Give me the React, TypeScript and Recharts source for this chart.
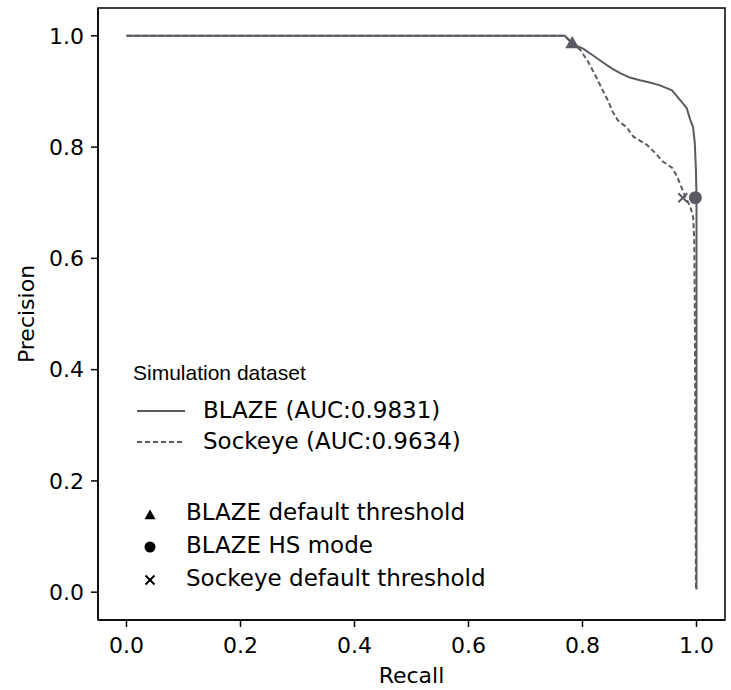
import { ComposedChart, Line, Scatter, XAxis, YAxis, ReferenceArea, Legend } from 'recharts'

// precision-recall points
const blazeRecall = [0, 0.769, 0.783, 0.801, 0.818, 0.836, 0.852, 0.866, 0.883, 0.901, 0.918, 0.936, 0.957, 0.971, 0.983, 0.989, 0.994, 0.997, 0.999, 1.0, 1.0]
const blazePrecision = [1.0, 1.0, 0.985, 0.977, 0.965, 0.952, 0.941, 0.933, 0.925, 0.92, 0.916, 0.911, 0.902, 0.885, 0.87, 0.849, 0.836, 0.807, 0.759, 0.711, 0.005]

const sockeyeRecall = [0, 0.769, 0.783, 0.796, 0.81, 0.822, 0.834, 0.845, 0.852, 0.862, 0.878, 0.889, 0.913, 0.927, 0.941, 0.957, 0.966, 0.974, 0.98, 0.989, 0.994, 0.996, 0.997, 0.999]
const sockeyePrecision = [1.0, 1.0, 0.985, 0.975, 0.953, 0.93, 0.905, 0.883, 0.865, 0.848, 0.835, 0.819, 0.804, 0.79, 0.774, 0.763, 0.747, 0.727, 0.711, 0.693, 0.675, 0.634, 0.526, 0.006]

const blazeDefaultPoint = [{ x: 0.782, y: 0.987 }]
const blazeHsPoint = [{ x: 0.998, y: 0.709 }]
const sockeyeDefaultPoint = [{ x: 0.976, y: 0.709 }]

const ticks = [0, 0.2, 0.4, 0.6, 0.8, 1.0]
const legendTitle = 'Simulation dataset'
const lineLegend = ['BLAZE (AUC:0.9831)', 'Sockeye (AUC:0.9634)']
const markerLegend = ['BLAZE default threshold', 'BLAZE HS mode', 'Sockeye default threshold']

const blazeData = blazeRecall.map((x, i) => ({ x, y: blazePrecision[i] }))
const sockeyeData = sockeyeRecall.map((x, i) => ({ x, y: sockeyePrecision[i] }))

const GREY = '#5a5a62'
const FONT = 'DejaVu Sans, sans-serif'

const Triangle = ({ cx, cy, fill, s = 7 }: any) => (
  <polygon points={`${cx},${cy - s} ${cx - s},${cy + s * 0.75} ${cx + s},${cy + s * 0.75}`} fill={fill} />
)
const Dot = ({ cx, cy, fill, r = 6.5 }: any) => <circle cx={cx} cy={cy} r={r} fill={fill} />
const Cross = ({ cx, cy, stroke, s = 4.5 }: any) => (
  <g stroke={stroke} strokeWidth={2}>
    <line x1={cx - s} y1={cy - s} x2={cx + s} y2={cy + s} />
    <line x1={cx - s} y1={cy + s} x2={cx + s} y2={cy - s} />
  </g>
)

const LegendBox = () => (
  <svg width={731} height={690} style={{ position: 'absolute', left: 0, top: 0 }}>
    <text x={133} y={380} fontFamily="Liberation Sans, Arial, sans-serif" fontSize={21} fill="#000">
      {legendTitle}
    </text>
    <line x1={137} y1={411} x2={185} y2={411} stroke={GREY} strokeWidth={2} />
    <text x={203} y={418} fontFamily={FONT} fontSize={23} fill="#000">{lineLegend[0]}</text>
    <line x1={137} y1={442} x2={185} y2={442} stroke={GREY} strokeWidth={2} strokeDasharray="5 3" />
    <text x={203} y={449} fontFamily={FONT} fontSize={23} fill="#000">{lineLegend[1]}</text>
    <Triangle cx={150} cy={515} fill="#000" s={5.5} />
    <text x={186} y={520} fontFamily={FONT} fontSize={23} fill="#000">{markerLegend[0]}</text>
    <Dot cx={150} cy={547} fill="#000" r={5.5} />
    <text x={186} y={553} fontFamily={FONT} fontSize={23} fill="#000">{markerLegend[1]}</text>
    <Cross cx={150} cy={580} stroke="#000" s={4.5} />
    <text x={186} y={586} fontFamily={FONT} fontSize={23} fill="#000">{markerLegend[2]}</text>
  </svg>
)

const YLabel = ({ viewBox }: any) => {
  const cy = viewBox.y + viewBox.height / 2
  return (
    <text x={34} y={cy} transform={`rotate(-90 34 ${cy})`} textAnchor="middle" fontFamily={FONT} fontSize={22} fill="#000">
      Precision
    </text>
  )
}

const XLabel = ({ viewBox }: any) => (
  <text x={viewBox.x + viewBox.width / 2} y={683} textAnchor="middle" fontFamily={FONT} fontSize={22} fill="#000">
    Recall
  </text>
)

export default function App() {
  return (
    <div style={{ position: 'absolute', left: 0, top: 0, background: '#fff' }}>
      <ComposedChart width={731} height={690} margin={{ top: 8, right: 6, left: 0, bottom: 0 }}>
        <XAxis
          dataKey="x"
          type="number"
          domain={[-0.05, 1.05]}
          ticks={ticks}
          tickFormatter={(v: number) => v.toFixed(1)}
          allowDataOverflow
          height={70}
          stroke="#000"
          strokeWidth={1.5}
          tickSize={7}
          tickMargin={10}
          tick={{ fill: '#000', fontSize: 22, fontFamily: FONT }}
          label={<XLabel />}
        />
        <YAxis
          type="number"
          domain={[-0.05, 1.05]}
          ticks={ticks}
          tickFormatter={(v: number) => v.toFixed(1)}
          allowDataOverflow
          width={98}
          stroke="#000"
          strokeWidth={1.5}
          tickSize={7}
          tickMargin={7}
          tick={{ fill: '#000', fontSize: 22, fontFamily: FONT }}
          label={<YLabel />}
        />
        <ReferenceArea x1={-0.05} x2={1.05} y1={-0.05} y2={1.05} fill="none" stroke="#000" strokeWidth={1.5} ifOverflow="visible" />
        <Line data={blazeData} dataKey="y" type="linear" stroke={GREY} strokeWidth={2} dot={false} isAnimationActive={false} />
        <Line data={sockeyeData} dataKey="y" type="linear" stroke={GREY} strokeWidth={2} strokeDasharray="5 3" dot={false} isAnimationActive={false} />
        <Scatter data={blazeDefaultPoint} dataKey="y" fill={GREY} shape={(p: any) => <Triangle cx={p.cx} cy={p.cy} fill={GREY} />} isAnimationActive={false} />
        <Scatter data={blazeHsPoint} dataKey="y" fill={GREY} shape={(p: any) => <Dot cx={p.cx} cy={p.cy} fill={GREY} />} isAnimationActive={false} />
        <Scatter data={sockeyeDefaultPoint} dataKey="y" fill={GREY} shape={(p: any) => <Cross cx={p.cx} cy={p.cy} stroke={GREY} />} isAnimationActive={false} />
        <Legend
          layout="horizontal"
          verticalAlign="middle"
          align="center"
          wrapperStyle={{ left: 0, top: 0, width: 731, height: 690, pointerEvents: 'none' }}
          content={() => <LegendBox />}
        />
      </ComposedChart>
    </div>
  )
}
